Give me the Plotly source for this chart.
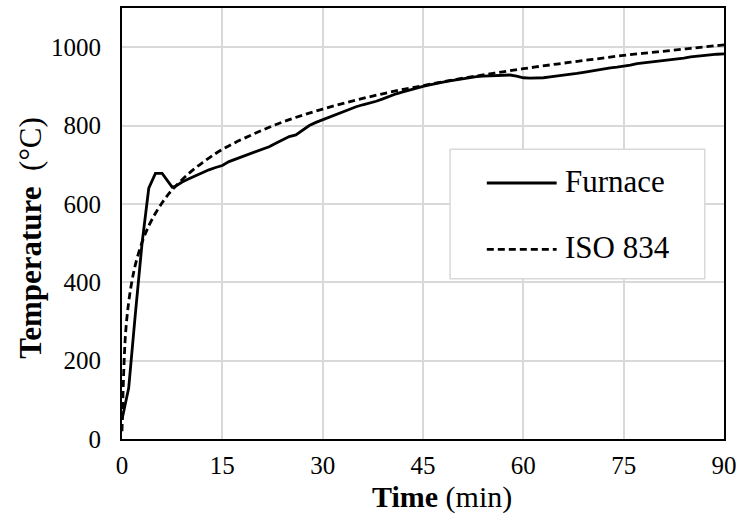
import plotly.graph_objects as go

# Furnace measured temperature (min, °C)
furnace_t = [0, 1, 2, 3, 4, 5, 6, 7, 7.5, 8, 9, 10, 11, 12, 13, 14, 15, 16, 17, 18, 19, 20,
             21, 22, 23, 24, 25, 26, 27, 28, 29, 30, 31, 32, 33, 34, 35, 36, 37, 38, 39, 40,
             41, 42, 43, 44, 45, 46, 47, 48, 49, 50, 51, 52, 53, 54, 55, 56, 57, 58, 59, 60,
             61, 62, 63, 64, 65, 66, 67, 68, 69, 70, 71, 72, 73, 74, 75, 76, 77, 78, 79, 80,
             81, 82, 83, 84, 85, 86, 87, 88, 89, 90]
furnace_T = [50, 130, 320, 500, 640, 678, 678, 655, 643, 645, 656, 664, 672, 680, 687, 693, 698, 708, 714, 720, 727, 733,
             739, 746, 755, 764, 772, 776, 788, 800, 808, 815, 821, 828, 835, 842, 848, 853, 857, 862, 868, 875,
             881, 886, 891, 896, 900, 904, 908, 911, 914, 917, 920, 923, 925, 926, 927, 928, 929, 929, 926, 922,
             921, 921, 922, 924, 926, 928, 930, 933, 936, 939, 941, 944, 947, 949, 951, 954, 958, 960, 962, 964,
             966, 967, 969, 972, 975, 977, 979, 981, 982, 983]

# ISO 834 standard curve (min, °C)
iso_t = [0, 0.5, 1, 1.5, 2, 3, 4, 5, 6, 7, 8, 10, 12, 15, 20, 25, 30, 35, 40, 45, 50, 55, 60, 65, 70, 75, 80, 85, 90]
iso_T = [20, 261, 349, 404, 445, 502, 544, 576, 603, 626, 645, 678, 705, 739, 781, 815, 842, 865, 885, 902, 918, 932, 945, 957, 968, 979, 988, 997, 1006]

x_ticks = [0, 15, 30, 45, 60, 75, 90]
y_ticks = [0, 200, 400, 600, 800, 1000]
legend_names = ["Furnace", "ISO 834"]
x_title = "<b>Time</b> (min)"
y_title = "<b>Temperature</b> &nbsp;(°C)"

FONT = "Liberation Serif"

fig = go.Figure()
fig.add_trace(go.Scatter(x=furnace_t, y=furnace_T, mode="lines", name=legend_names[0],
                         line=dict(color="black", width=2.8), showlegend=False))
fig.add_trace(go.Scatter(x=iso_t, y=iso_T, mode="lines", name=legend_names[1],
                         line=dict(color="black", width=2.8, dash="7px,4px", shape="spline"), showlegend=False))

axis_common = dict(showgrid=True, gridcolor="#d9d9d9", gridwidth=1.5, zeroline=False,
                   showline=True, linecolor="black", linewidth=2, mirror=True,
                   tickfont=dict(family=FONT, size=25, color="black"))

fig.update_xaxes(range=[0, 90], tickvals=x_ticks, ticklabelstandoff=3, **axis_common)
fig.update_yaxes(range=[0, 1100], tickvals=y_ticks, ticklabelstandoff=14, **axis_common)

# Axis titles
fig.add_annotation(xref="paper", yref="paper", x=0.531, y=-0.134, text=x_title, showarrow=False,
                   xanchor="center", yanchor="middle", font=dict(family=FONT, size=30, color="black"))
fig.add_annotation(xref="paper", yref="paper", x=-0.152, y=0.466, text=y_title, showarrow=False,
                   textangle=-90, xanchor="center", yanchor="middle", font=dict(family=FONT, size=31, color="black"))

# Manual legend box
fig.add_shape(type="rect", xref="paper", yref="paper", x0=0.545, x1=0.968, y0=0.372, y1=0.672,
              line=dict(color="#d9d9d9", width=1.5), fillcolor="white", layer="above")
fig.add_shape(type="line", xref="paper", yref="paper", x0=0.606, x1=0.722, y0=0.594, y1=0.594,
              line=dict(color="black", width=2.8), layer="above")
fig.add_shape(type="line", xref="paper", yref="paper", x0=0.606, x1=0.722, y0=0.440, y1=0.440,
              line=dict(color="black", width=2.8, dash="7px,4px"), layer="above")
fig.add_annotation(xref="paper", yref="paper", x=0.733, y=0.598, text=legend_names[0], showarrow=False,
                   xanchor="left", yanchor="middle", font=dict(family=FONT, size=31, color="black"))
fig.add_annotation(xref="paper", yref="paper", x=0.733, y=0.444, text=legend_names[1], showarrow=False,
                   xanchor="left", yanchor="middle", font=dict(family=FONT, size=31, color="black"))

fig.update_layout(width=743, height=519, margin=dict(l=122, r=17, t=6, b=80),
                  paper_bgcolor="white", plot_bgcolor="white",
                  font=dict(family=FONT, color="black"))

fig.write_html("out.html")
